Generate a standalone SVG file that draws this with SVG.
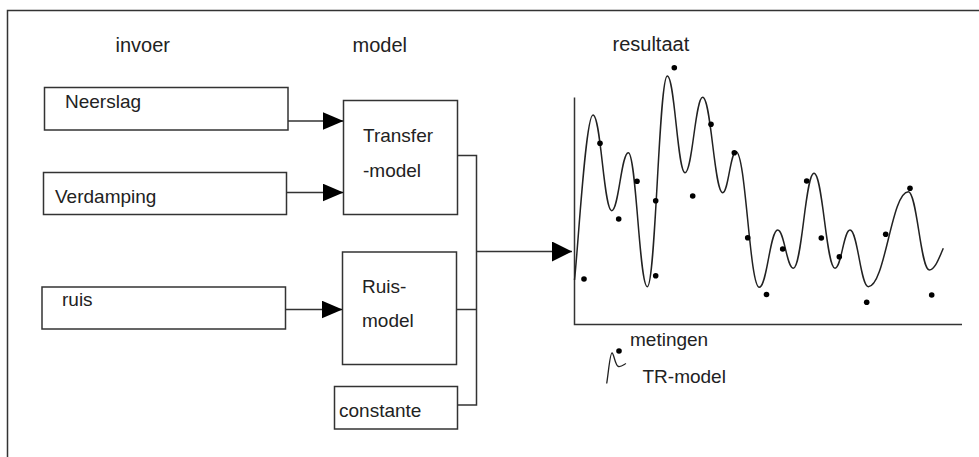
<svg xmlns="http://www.w3.org/2000/svg" width="979" height="457" viewBox="0 0 979 457">
  <defs>
    <marker id="ah" markerWidth="22" markerHeight="20" refX="21" refY="9" orient="auto" markerUnits="userSpaceOnUse">
      <path d="M0,0 L21,9 L0,18 z" fill="#000"/>
    </marker>
    <marker id="ah2" markerWidth="22" markerHeight="22" refX="20" refY="10" orient="auto" markerUnits="userSpaceOnUse">
      <path d="M0,0 L20,10 L0,20 z" fill="#000"/>
    </marker>
  </defs>
  <style>
    .box { fill: #fff; stroke: #333; stroke-width: 1.5; }
    .ln { fill: none; stroke: #333; stroke-width: 1.5; }
    .t { font-family: "Liberation Sans", Arial, sans-serif; font-size: 19px; fill: #222; }
    .h { font-size: 20px; }
    .dot { fill: #000; }
  </style>
  <rect width="979" height="457" fill="#fff"/>

  <!-- outer frame (open to the right and bottom) -->
  <path class="ln" d="M7.5,457 V10.5 H979" stroke-width="2"/>

  <!-- column headings -->
  <text class="t h" x="115.5" y="52">invoer</text>
  <text class="t h" x="352.5" y="52">model</text>
  <text class="t h" x="612.5" y="51">resultaat</text>

  <!-- input nodes -->
  <g id="neerslag">
    <rect class="box" x="44.5" y="87.5" width="243.5" height="42.5"/>
    <text class="t" x="65" y="108">Neerslag</text>
  </g>
  <g id="verdamping">
    <rect class="box" x="43.5" y="172.5" width="243" height="42"/>
    <text class="t" x="55" y="203">Verdamping</text>
  </g>
  <g id="ruis">
    <rect class="box" x="42" y="287" width="243.5" height="42"/>
    <text class="t" x="62" y="306">ruis</text>
  </g>

  <!-- model nodes -->
  <g id="transfermodel">
    <rect class="box" x="343.5" y="100.5" width="114" height="114"/>
    <text class="t" x="363" y="142">Transfer</text>
    <text class="t" x="363" y="177">-model</text>
  </g>
  <g id="ruismodel">
    <rect class="box" x="342.5" y="252" width="114" height="112.5"/>
    <text class="t" x="362" y="293">Ruis-</text>
    <text class="t" x="362" y="327">model</text>
  </g>
  <g id="constante">
    <rect class="box" x="334.5" y="386.5" width="123" height="42.5"/>
    <text class="t" x="339" y="417">constante</text>
  </g>

  <!-- connectors -->
  <g id="connectors">
    <line class="ln" x1="288" y1="121" x2="343.5" y2="121" marker-end="url(#ah)"/>
    <line class="ln" x1="286.5" y1="192.5" x2="343.5" y2="192.5" marker-end="url(#ah)"/>
    <line class="ln" x1="285.5" y1="309.5" x2="342.5" y2="309.5" marker-end="url(#ah)"/>
    <path class="ln" d="M457.5,155.5 H476.5 V405 H457.5"/>
    <line class="ln" x1="456.5" y1="309.5" x2="476.5" y2="309.5"/>
    <line class="ln" x1="476.5" y1="251.5" x2="572" y2="251.5" marker-end="url(#ah2)"/>
  </g>

  <!-- result chart -->
  <g id="resultaat">
    <path class="ln" d="M574.5,97.5 V324.5 H962"/>
    <path fill="none" stroke="#222" stroke-width="1.5" d="M574.5,280 C578,250 585.5,115 593,115
      C600.9,115 603.8,210.7 611.7,210.7
      C618.7,210.7 621.3,152.7 628.3,152.7
      C636.3,152.7 639.3,286.7 647.3,286.7
      C655.7,286.7 658.9,76 667.3,76
      C674.7,76 677.6,172.7 685,172.7
      C692.4,172.7 695.3,97.3 702.7,97.3
      C711.1,97.3 714.3,192.7 722.7,192.7
      C728.3,192.7 730.4,151.7 736,151.7
      C745.8,151.7 749.5,287.3 759.3,287.3
      C767,287.3 770,230 777.7,230
      C784.3,230 786.7,268.3 793.3,268.3
      C802,268.3 805.3,173.3 814,173.3
      C822.8,173.3 826.2,268.3 835,268.3
      C841.3,268.3 843.7,230 850,230
      C857.7,230 860.6,286.7 868.3,286.7
      C885.1,286.7 891.5,191.7 908.3,191.7
      C917.1,191.7 920.5,270 929.3,270
      C935,270 939,258 943.3,248.3"/>
    <g class="dot">
      <circle cx="584" cy="279" r="2.8"/>
      <circle cx="600" cy="143.3" r="2.8"/>
      <circle cx="618.7" cy="219" r="2.8"/>
      <circle cx="637" cy="181.3" r="2.8"/>
      <circle cx="655.7" cy="200.7" r="2.8"/>
      <circle cx="655.7" cy="275.7" r="2.8"/>
      <circle cx="674.3" cy="67.7" r="2.8"/>
      <circle cx="692.7" cy="196" r="2.8"/>
      <circle cx="711" cy="124.3" r="2.8"/>
      <circle cx="734.3" cy="152.7" r="2.8"/>
      <circle cx="747.7" cy="237.7" r="2.8"/>
      <circle cx="766.5" cy="294.5" r="2.8"/>
      <circle cx="782.7" cy="249" r="2.8"/>
      <circle cx="806.7" cy="181" r="2.8"/>
      <circle cx="821.3" cy="238" r="2.8"/>
      <circle cx="839.3" cy="256.7" r="2.8"/>
      <circle cx="866.7" cy="302.3" r="2.8"/>
      <circle cx="885.7" cy="234.3" r="2.8"/>
      <circle cx="910" cy="188.3" r="2.8"/>
      <circle cx="931.7" cy="295" r="2.8"/>
    </g>
  </g>

  <!-- legend -->
  <g id="legend">
    <circle class="dot" cx="619" cy="351" r="2.8"/>
    <path fill="none" stroke="#222" stroke-width="1.3" d="M606.7,383.5 C608.5,372 610,353 612,353 C614,353 615,366 618.5,366.5 C621.5,367 624,364.5 626,363.5"/>
    <text class="t" x="630" y="346">metingen</text>
    <text class="t" x="642.5" y="383">TR-model</text>
  </g>
</svg>
